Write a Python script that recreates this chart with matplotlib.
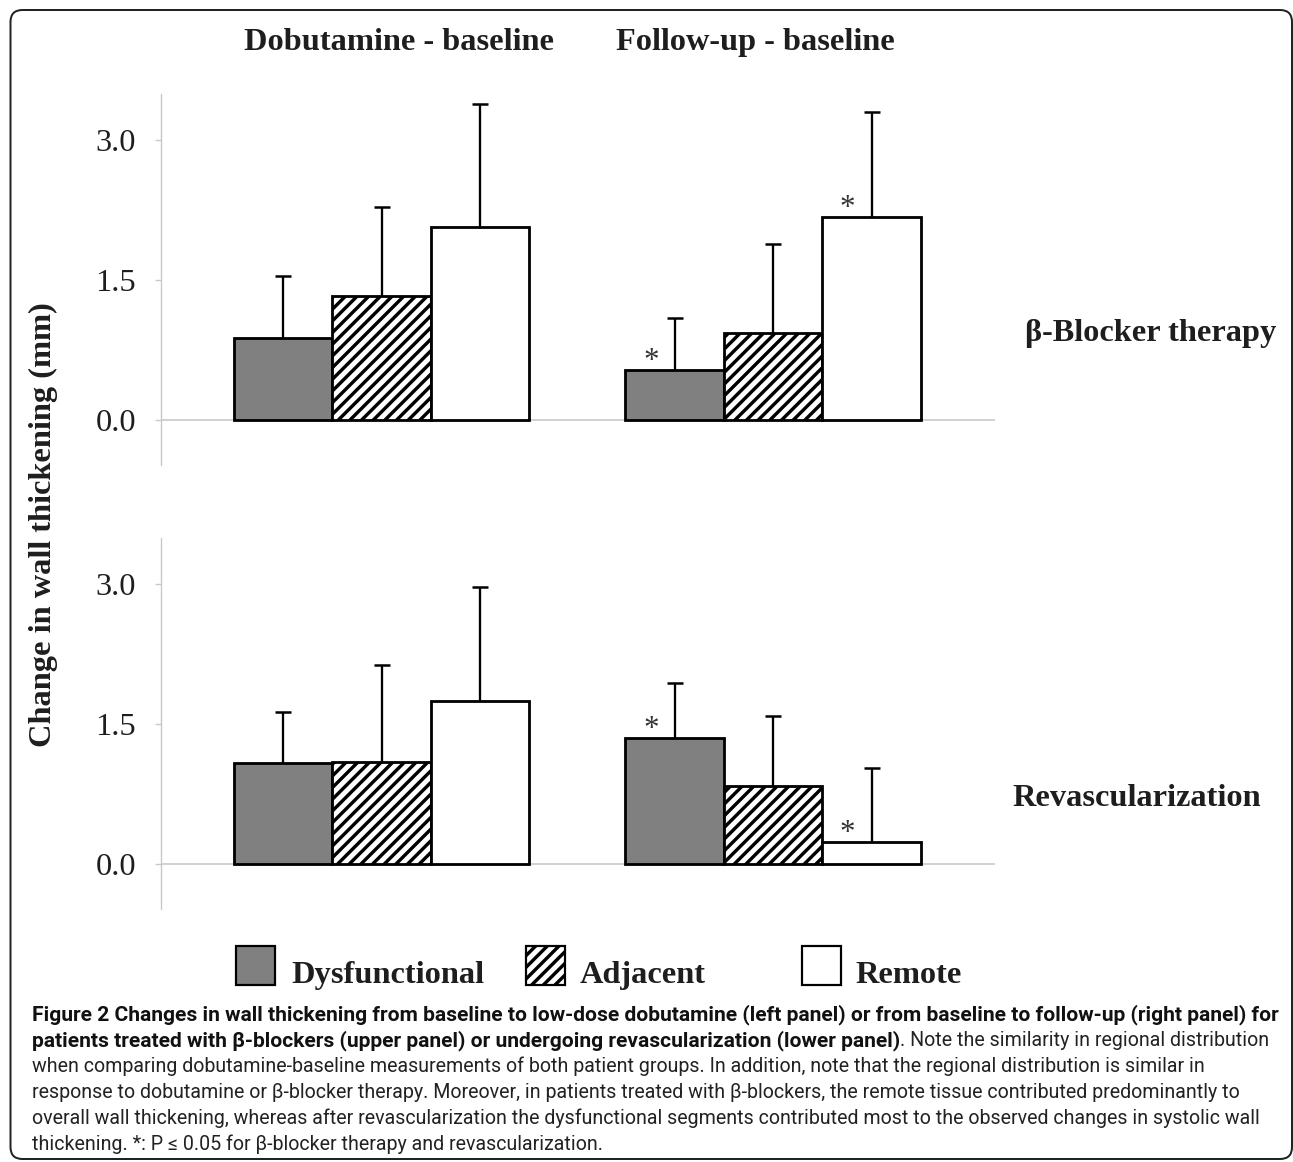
import matplotlib
matplotlib.use("Agg")
import matplotlib.pyplot as plt
import numpy as np
from matplotlib.patches import Rectangle, FancyBboxPatch

# ---- data (mm) ----
groups = ["Dobutamine - baseline", "Follow-up - baseline"]
segments = ["Dysfunctional", "Adjacent", "Remote"]

bb_dysf = [0.88, 0.54]
bb_adj = [1.33, 0.93]
bb_rem = [2.07, 2.18]
bb_dysf_err = [0.66, 0.55]
bb_adj_err = [0.95, 0.96]
bb_rem_err = [1.32, 1.12]
bb_dysf_sig = [False, True]
bb_adj_sig = [False, False]
bb_rem_sig = [False, True]

rev_dysf = [1.08, 1.35]
rev_adj = [1.10, 0.84]
rev_rem = [1.75, 0.24]
rev_dysf_err = [0.55, 0.59]
rev_adj_err = [1.03, 0.75]
rev_rem_err = [1.21, 0.79]
rev_dysf_sig = [False, True]
rev_adj_sig = [False, False]
rev_rem_sig = [False, True]

yticks = [0.0, 1.5, 3.0]
ytick_labels = ["0.0", "1.5", "3.0"]

caption_bold_1 = ("Figure 2 Changes in wall thickening from baseline to low-dose dobutamine "
                  "(left panel) or from baseline to follow-up (right panel) for")
caption_bold_2 = ("patients treated with \u03b2-blockers (upper panel) or undergoing "
                  "revascularization (lower panel)")
caption_rest = [
    ". Note the similarity in regional distribution",
    "when comparing dobutamine-baseline measurements of both patient groups. "
    "In addition, note that the regional distribution is similar in",
    "response to dobutamine or \u03b2-blocker therapy. Moreover, in patients treated "
    "with \u03b2-blockers, the remote tissue contributed predominantly to",
    "overall wall thickening, whereas after revascularization the dysfunctional "
    "segments contributed most to the observed changes in systolic wall",
    "thickening. *: P \u2264 0.05 for \u03b2-blocker therapy and revascularization.",
]

# ---- style ----
DPI = 70          # at 70 dpi the '//' hatch has the spacing of the original
W, H = 1293, 1162


def pt(px):
    """pixels -> points at this dpi"""
    return px * 72 / DPI


SERIF = ["Liberation Serif", "DejaVu Serif"]
SANS = ["Roboto", "DejaVu Sans"]
INK = "#1e1e1e"
GRID = "#c8c8c8"
FACES = ["#808080", "white", "white"]
HATCHES = [None, "//", None]
BIG = pt(32.4)

plt.rcParams.update({
    "font.family": SERIF,
    "hatch.linewidth": pt(3.4),
    "hatch.color": "black",
})

fig = plt.figure(figsize=(W / DPI, H / DPI), dpi=DPI)
fig.patch.set_facecolor("white")


def axes_px(left, top, right, bottom):
    return fig.add_axes([left / W, 1 - bottom / H, (right - left) / W, (bottom - top) / H])


x = np.arange(len(groups))
width = 0.2516
offsets = [-width, 0.0, width]


def draw_panel(ax, means, errs, sigs):
    ax.axhline(0, color=GRID, lw=pt(1.6), zorder=1)
    for k in range(len(segments)):
        xs = x + offsets[k]
        ax.bar(xs, means[k], width, color=FACES[k], edgecolor="black",
               linewidth=pt(2.8), hatch=HATCHES[k], zorder=3)
        _, caps, _ = ax.errorbar(xs, means[k], yerr=[np.zeros(len(xs)), errs[k]],
                                 fmt="none", ecolor="black", elinewidth=pt(2.3),
                                 capsize=pt(8.5), capthick=pt(2.5), zorder=4)
        caps[0].set_visible(False)
        for xi, m, s in zip(xs, means[k], sigs[k]):
            if s:
                ax.text(xi - 0.061, m + 0.01, "*", ha="center", va="baseline",
                        fontsize=pt(31), color="#333333", zorder=5)
    ax.set_xlim(-0.564, 1.567)
    ax.set_ylim(-0.48, 3.49)
    ax.set_xticks([])
    ax.set_yticks(yticks)
    ax.set_yticklabels(ytick_labels)
    ax.tick_params(axis="y", length=pt(6), width=pt(1.4), color=GRID,
                   pad=pt(19), labelsize=BIG, labelcolor=INK)
    for side in ("top", "right", "bottom"):
        ax.spines[side].set_visible(False)
    ax.spines["left"].set_color(GRID)
    ax.spines["left"].set_linewidth(pt(1.4))
    ax.patch.set_alpha(0)


ax_top = axes_px(161, 94.4, 995, 464.8)
draw_panel(ax_top, [bb_dysf, bb_adj, bb_rem],
           [bb_dysf_err, bb_adj_err, bb_rem_err],
           [bb_dysf_sig, bb_adj_sig, bb_rem_sig])

ax_bot = axes_px(161, 537.8, 995, 909.4)
draw_panel(ax_bot, [rev_dysf, rev_adj, rev_rem],
           [rev_dysf_err, rev_adj_err, rev_rem_err],
           [rev_dysf_sig, rev_adj_sig, rev_rem_sig])


def ftext(xp, yp, s, **kw):
    return fig.text(xp / W, 1 - yp / H, s, **kw)


# column titles and row labels
ftext(399, 50, groups[0], ha="center", va="baseline", fontsize=BIG,
      fontweight="bold", color=INK)
ftext(755, 50, groups[1], ha="center", va="baseline", fontsize=BIG,
      fontweight="bold", color=INK)
ftext(1025, 341, "\u03b2-Blocker therapy", ha="left", va="baseline",
      fontsize=BIG, fontweight="bold", color=INK)
ftext(1012, 806, "Revascularization", ha="left", va="baseline",
      fontsize=BIG, fontweight="bold", color=INK)
ftext(43, 525, "Change in wall thickening (mm)", rotation=90, ha="center",
      va="center", fontsize=BIG, fontweight="bold", color=INK)

# legend, laid out like the original (uneven spacing)
legend_boxes = [236, 526, 802]
legend_text_x = [291, 580, 855]
for k, seg in enumerate(segments):
    fig.add_artist(Rectangle((legend_boxes[k] / W, 1 - 985 / H), 39 / W, 39 / H,
                             transform=fig.transFigure, facecolor=FACES[k],
                             edgecolor="black", linewidth=pt(2.2),
                             hatch=HATCHES[k]))
    ftext(legend_text_x[k], 983, seg, ha="left", va="baseline", fontsize=BIG,
          fontweight="bold", color=INK)

# caption
renderer = fig.canvas.get_renderer()


def fitted_size(s, weight, target_px, base=16.0):
    t = fig.text(0, 0, s, fontsize=base, fontweight=weight, family=SANS)
    w = t.get_window_extent(renderer).width
    t.remove()
    return base * target_px / w


bold_size = fitted_size(caption_bold_1, "bold", 1245)
reg_size = fitted_size(caption_rest[1], "normal", 1174)

cap_x = 32
cap_y = [1020, 1046, 1072, 1098, 1124, 1150]
ftext(cap_x, cap_y[0], caption_bold_1, ha="left", va="baseline",
      fontsize=bold_size, fontweight="bold", family=SANS, color="#111111")
t2 = ftext(cap_x, cap_y[1], caption_bold_2, ha="left", va="baseline",
           fontsize=bold_size, fontweight="bold", family=SANS, color="#111111")
x_end = t2.get_window_extent(renderer).x1
fig.text(x_end / W, 1 - cap_y[1] / H, caption_rest[0], ha="left", va="baseline",
         fontsize=reg_size, family=SANS, color="#222222")
for yy, s in zip(cap_y[2:], caption_rest[1:]):
    ftext(cap_x, yy, s, ha="left", va="baseline", fontsize=reg_size,
          family=SANS, color="#222222")

# rounded frame around the whole figure
fig.add_artist(FancyBboxPatch((10.5 / DPI, (H - 1159) / DPI),
                              (1292 - 10.5) / DPI, (1159 - 10) / DPI,
                              boxstyle=f"round,pad=0,rounding_size={12 / DPI}",
                              transform=fig.dpi_scale_trans, facecolor="none",
                              edgecolor="#222222", linewidth=pt(2)))

fig.savefig("out.png", dpi=DPI, facecolor="white")
